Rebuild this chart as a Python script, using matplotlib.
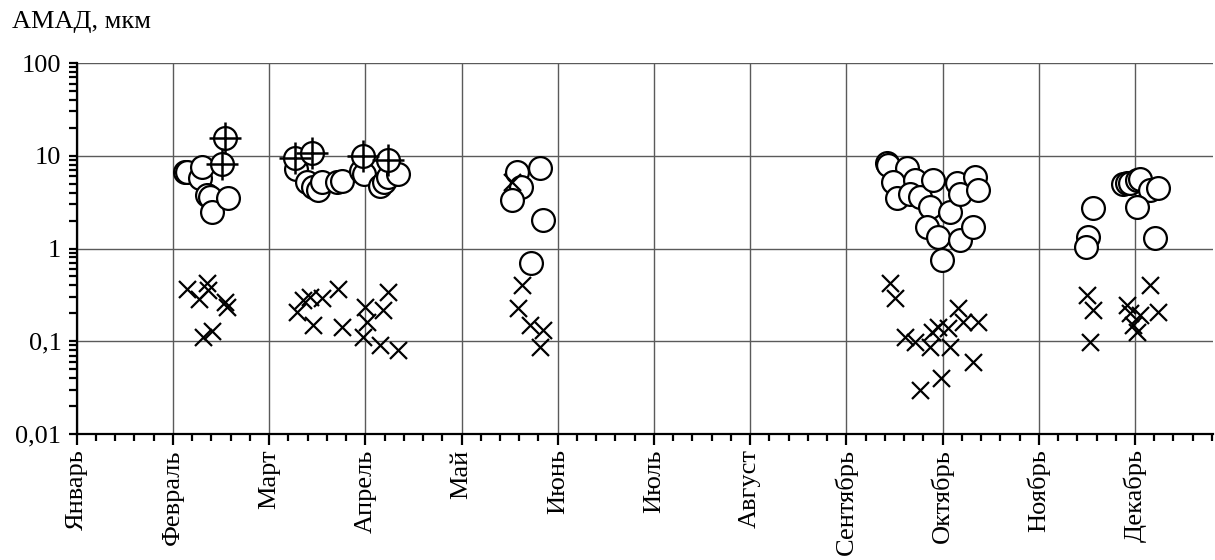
#! /usr/bin/env python3
import numpy as np
import matplotlib
matplotlib.use('Agg')
import matplotlib.pyplot as plt
from matplotlib.ticker import FixedLocator, LogLocator, NullFormatter

# x positions are in months from 1 January (0 = Январь, 1 = Февраль, ...)
months = ['Январь', 'Февраль', 'Март', 'Апрель', 'Май', 'Июнь', 'Июль',
          'Август', 'Сентябрь', 'Октябрь', 'Ноябрь', 'Декабрь']

# open circles
circ_x = [1.126, 1.147, 1.282, 1.300, 1.358, 1.386, 1.403, 1.576,
          2.280, 2.394, 2.456, 2.508, 2.550, 2.706, 2.758, 2.955, 2.987, 3.153, 3.195, 3.236, 3.340,
          4.580, 4.816, 4.615, 4.522, 4.850, 4.720,
          8.420, 8.437, 8.628, 8.489, 8.524, 8.714, 8.662, 8.766, 8.904, 8.870, 9.148, 9.078,
          9.182, 9.338, 9.372, 8.836, 8.956, 9.182, 9.320, 8.992,
          10.561, 10.516, 10.492, 10.880, 10.915, 10.949, 11.019, 11.053, 11.157, 11.243, 11.019, 11.210]
circ_y = [6.7, 6.7, 5.7, 7.6, 3.8, 3.6, 2.5, 3.5,
          7.2, 5.2, 4.6, 4.3, 5.2, 5.2, 5.3, 6.8, 6.4, 4.7, 5.2, 5.9, 6.4,
          6.6, 7.3, 4.6, 3.3, 2.03, 0.69,
          8.3, 8.0, 7.3, 5.25, 3.5, 5.5, 3.9, 3.6, 5.5, 2.8, 5.05, 2.5,
          3.9, 5.9, 4.3, 1.72, 1.34, 1.24, 1.72, 0.75,
          2.75, 1.34, 1.05, 5.0, 5.1, 5.1, 5.5, 5.6, 4.3, 4.45, 2.8, 1.29]

# circles with cross-hair
cplus_x = [1.542, 1.510, 2.269, 2.443, 2.979, 3.239]
cplus_y = [15.5, 8.1, 9.4, 10.8, 9.9, 9.0]

# crosses
cross_x = [1.143, 1.274, 1.368, 1.351, 1.542, 1.566, 1.316, 1.403,
           2.287, 2.352, 2.425, 2.459, 2.547, 2.719, 2.755, 2.997, 3.018, 2.979, 3.187, 3.239, 3.153, 3.343,
           4.522, 4.626, 4.590, 4.712, 4.850, 4.816,
           8.454, 8.506, 8.610, 8.714, 8.870, 8.956, 9.078, 8.766, 8.981, 9.060, 9.164, 9.216,
           9.372, 9.320, 8.888,
           10.499, 10.568, 10.534, 10.921, 10.949, 11.053, 11.157, 11.243, 11.019, 10.984]
cross_y = [0.363, 0.283, 0.357, 0.42, 0.267, 0.232, 0.110, 0.130,
           0.208, 0.28, 0.30, 0.150, 0.29, 0.363, 0.141, 0.236, 0.162, 0.112, 0.217, 0.342, 0.091, 0.080,
           5.2, 0.40, 0.226, 0.150, 0.132, 0.087,
           0.42, 0.29, 0.112, 0.099, 0.087, 0.144, 0.087, 0.030, 0.040, 0.138, 0.226, 0.162,
           0.162, 0.060, 0.125,
           0.316, 0.217, 0.099, 0.246, 0.2, 0.192, 0.40, 0.209, 0.126, 0.15]

yticks = [0.01, 0.1, 1, 10, 100]
ytick_labels = ['0,01', '0,1', '1', '10', '100']

plt.rcParams['font.family'] = ['Liberation Serif', 'DejaVu Serif']
plt.rcParams['font.size'] = 19

fig = plt.figure(figsize=(12.15, 5.6), dpi=100)
ax = fig.add_axes([0.0631, 0.225, 0.9352, 0.6625])

ax.set_yscale('log')
ax.set_ylim(0.01, 100)
ax.set_xlim(0, 11.81)

ax.set_xticks(np.arange(len(months)))
ax.set_xticklabels(months, rotation=90, va='top', ha='center')
ax.xaxis.set_minor_locator(FixedLocator(np.arange(0, 11.81, 0.2)))
ax.set_yticks(yticks)
ax.set_yticklabels(ytick_labels)
ax.yaxis.set_minor_locator(LogLocator(base=10, subs=np.arange(2, 10)))
ax.yaxis.set_minor_formatter(NullFormatter())

ax.grid(True, which='major', color='#5a5a5a', linewidth=1.0)
ax.set_axisbelow(True)
for side in ['top', 'right']:
    ax.spines[side].set_visible(False)
for side in ['left', 'bottom']:
    ax.spines[side].set_linewidth(1.6)
ax.tick_params(axis='x', which='major', length=8, width=1.6, direction='out', pad=3)
ax.tick_params(axis='x', which='minor', length=5, width=1.6, direction='out')
ax.tick_params(axis='y', which='major', length=6, width=1.6, direction='out', pad=5)
ax.tick_params(axis='y', which='minor', length=6, width=1.6, direction='out')

ax.scatter(circ_x, circ_y, s=270, facecolor='white', edgecolor='black', linewidths=1.6, zorder=3)
ax.scatter(cplus_x, cplus_y, s=270, facecolor='white', edgecolor='black', linewidths=1.6, zorder=4)
ax.scatter(cplus_x, cplus_y, s=520, marker='+', color='black', linewidths=1.8, zorder=5)
ax.scatter(cross_x, cross_y, s=150, marker='x', color='black', linewidths=1.6, zorder=6)

fig.text(12 / 1215, 1 - 22 / 560, 'АМАД, мкм', ha='left', va='center', fontsize=19)

fig.savefig('out.png', dpi=100)
